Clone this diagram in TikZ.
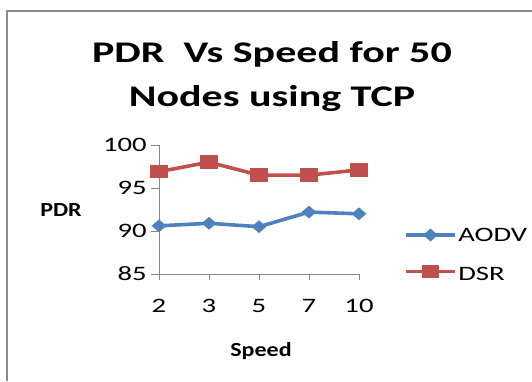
\documentclass[tikz,border=0pt]{standalone}
\usepackage{fontspec}
\setmainfont{Carlito}
\usetikzlibrary{shapes.geometric}
\definecolor{aodv}{HTML}{4F81BD}
\definecolor{dsr}{HTML}{C0504D}
\definecolor{axisgray}{HTML}{868686}
\definecolor{framegray}{HTML}{8C8C8C}
\tikzset{
  ttl/.style={anchor=base, inner sep=0pt, font=\fontsize{30}{36}\selectfont\bfseries, xscale=1.4},
  lbl/.style={inner sep=0pt, font=\fontsize{20.5}{24}\selectfont, xscale=1.4},
  axt/.style={anchor=base, inner sep=0pt, font=\fontsize{20}{24}\selectfont\bfseries, xscale=1.2},
  axisline/.style={draw=axisgray, line width=1pt},
  aodvline/.style={draw=aodv, line width=3.6pt, line join=round},
  dsrline/.style={draw=dsr, line width=3.6pt, line join=round},
  dmark/.style={diamond, fill=aodv, inner sep=0pt, minimum width=15pt, minimum height=13pt},
  smark/.style={rectangle, fill=dsr, inner sep=0pt, minimum width=17.5pt, minimum height=13.5pt},
}
\begin{document}
\begin{tikzpicture}[x=1pt,y=-1pt]
\useasboundingbox (0,0) rectangle (532,381);
% frame
\draw[framegray, line width=2pt] (7,381) -- (7,10.5) -- (533,10.5);
% title
\node[ttl] (t1) at (272,62) {PDR\ \ Vs Speed for 50};
\node[ttl] (t2) at (272,106) {Nodes using TCP};
% axes
\coordinate (o) at (159,274);
\coordinate (ytop) at (159,145);
\coordinate (xend) at (359,274);
\draw[axisline] (ytop) -- (159,280);
\draw[axisline] (o) -- (xend);
\foreach \v/\yy in {100/145,95/188,90/231,85/274}{
  \draw[axisline] (151,\yy) -- (159,\yy);
  \node[lbl, anchor=base east] (y\v) at (147,\yy+6.4) {\v};
}
\foreach \c/\xx in {2/159,3/209,5/259,7/309,10/359}{
  \draw[axisline] (\xx,274) -- (\xx,280);
  \node[lbl, anchor=base] (x\c) at (\xx,312.5) {\c};
}
\node[axt] (xt) at (261,356) {Speed};
\node[axt] (yt) at (61,216.7) {PDR};
% data: y = 145 + (100-v)*8.6
\foreach \i/\xx/\v in {1/159/90.6,2/209/90.9,3/259/90.5,4/309/92.2,5/359/92.0}{
  \coordinate (a\i) at (\xx,{145+(100-\v)*8.6});
}
\foreach \i/\xx/\v in {1/159/96.9,2/209/98.0,3/259/96.5,4/309/96.5,5/359/97.1}{
  \coordinate (d\i) at (\xx,{145+(100-\v)*8.6});
}
\draw[aodvline] (a1) -- (a2) -- (a3) -- (a4) -- (a5);
\draw[dsrline] (d1) -- (d2) -- (d3) -- (d4) -- (d5);
\foreach \i in {1,...,5}{
  \node[dmark] (am\i) at (a\i) {};
  \node[smark] (dm\i) at (d\i) {};
}
% legend
\coordinate (la1) at (406,235);
\coordinate (la2) at (455,235);
\coordinate (ld1) at (406,271.5);
\coordinate (ld2) at (455,271.5);
\draw[aodvline] (la1) -- (la2);
\draw[dsrline] (ld1) -- (ld2);
\node[dmark] (lam) at (430.5,235) {};
\node[smark] (ldm) at (430.5,271.5) {};
\node[lbl, anchor=base west] (laodv) at (458,241.7) {AODV};
\node[lbl, anchor=base west] (ldsr) at (458,280) {DSR};
\end{tikzpicture}
\end{document}
